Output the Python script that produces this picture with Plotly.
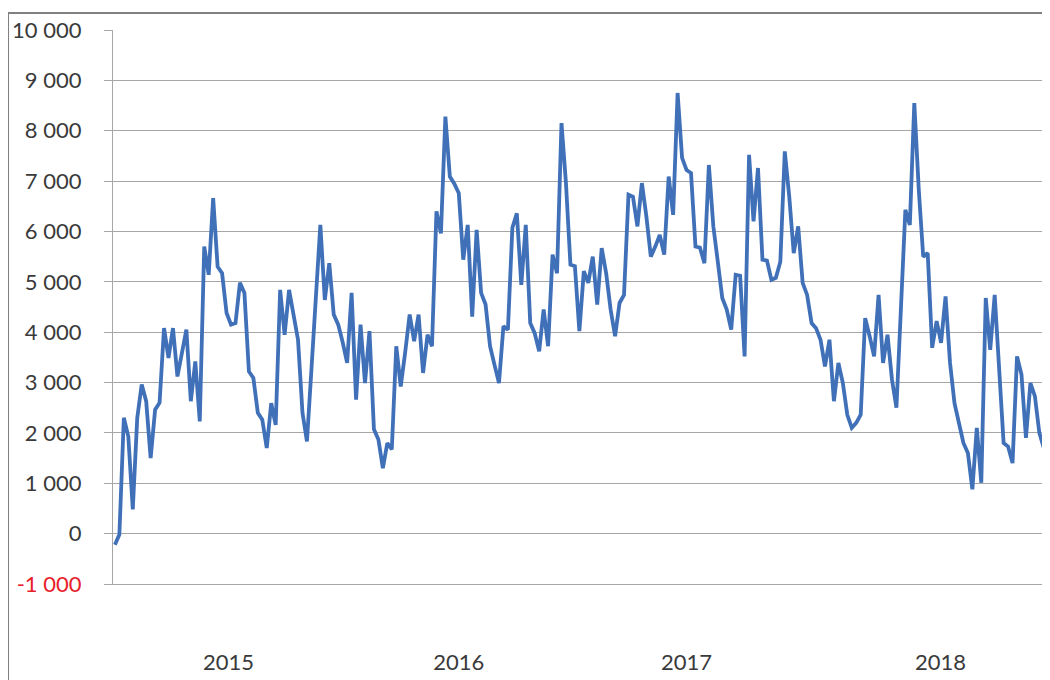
import pandas as pd
import plotly.graph_objects as go

# Weekly values
values = [
    -220, -20, 2300, 1930, 480, 2300, 2960, 2630, 1500, 2460,
    2600, 4080, 3490, 4080, 3120, 3600, 4050, 2630, 3420, 2230,
    5700, 5140, 6660, 5300, 5170, 4380, 4150, 4180, 4980, 4780,
    3220, 3090, 2400, 2260, 1700, 2590, 2160, 4840, 3950, 4840,
    4350, 3850, 2400, 1830, 3250, 4700, 6130, 4640, 5370, 4350,
    4150, 3800, 3390, 4780, 2660, 4150, 2990, 4020, 2070, 1870,
    1300, 1800, 1670, 3720, 2920, 3600, 4350, 3820, 4350, 3190,
    3950, 3720, 6400, 5960, 8280, 7090, 6950, 6760, 5440, 6130,
    4310, 6030, 4780, 4550, 3720, 3350, 2990, 4120, 4050, 6070,
    6360, 4940, 6130, 4180, 3980, 3620, 4450, 3720, 5540, 5170,
    8150, 6960, 5340, 5310, 4020, 5210, 4980, 5500, 4550, 5670,
    5170, 4450, 3920, 4580, 4740, 6730, 6690, 6100, 6960, 6300,
    5500, 5700, 5930, 5540, 7090, 6330, 8750, 7460, 7220, 7160,
    5700, 5680, 5370, 7320, 6100, 5400, 4680, 4450, 4050, 5140,
    5120, 3520, 7520, 6200, 7260, 5440, 5420, 5040, 5080, 5400,
    7590, 6690, 5570, 6100, 4980, 4740, 4180, 4080, 3850, 3320,
    3850, 2630, 3390, 2990, 2360, 2100, 2200, 2360, 4280, 3920,
    3520, 4740, 3390, 3950, 3060, 2500, 4450, 6430, 6130, 8550,
    6830, 5500, 5570, 3690, 4220, 3790, 4710, 3390, 2590, 2200,
    1800, 1600, 880, 2100, 1010, 4680, 3650, 4740, 3270, 1800,
    1730, 1400, 3520, 3160, 1900, 2990, 2730, 2000, 1700,
]
dates = pd.date_range("2015-01-04", periods=len(values), freq="7D")

year_labels = ["2015", "2016", "2017", "2018"]
year_tick_dates = ["2015-07-01", "2016-06-26", "2017-06-18", "2018-07-21"]

y_ticks = list(range(-1000, 10001, 1000))


def fmt(v):
    s = f"{abs(v):,}".replace(",", " ")
    s = ("-" if v < 0 else "") + s
    if v < 0:
        return f"<span style='color:#E8202A'>{s}</span>"
    return s


y_ticktext = [fmt(v) for v in y_ticks]

GRID = "#A6A6A6"
FONT = "Lato"

fig = go.Figure()
fig.add_trace(go.Scatter(
    x=dates, y=values, mode="lines",
    line=dict(color="#4070B8", width=3.8),
    showlegend=False, hoverinfo="skip",
))

fig.update_layout(
    width=1042, height=672, autosize=False,
    margin=dict(l=105, r=3, t=22, b=96, pad=0),
    paper_bgcolor="white", plot_bgcolor="white",
    font=dict(family=FONT, size=22, color="#3A3A3A"),
    xaxis=dict(
        range=["2015-01-01", "2019-01-04"],
        tickvals=year_tick_dates, ticktext=year_labels,
        showgrid=False, zeroline=False,
        showline=True, linecolor=GRID, linewidth=1.2,
        ticks="", ticklabelstandoff=58,
        tickfont=dict(family=FONT, size=22, color="#3A3A3A"),
    ),
    yaxis=dict(
        range=[-1000, 10000],
        tickvals=y_ticks, ticktext=y_ticktext,
        showgrid=True, gridcolor=GRID, gridwidth=1.2,
        zeroline=False,
        showline=True, linecolor=GRID, linewidth=1.2,
        ticks="outside", ticklen=8, tickcolor=GRID, tickwidth=1.2,
        ticklabelstandoff=18,
        tickfont=dict(family=FONT, size=22, color="#3A3A3A"),
    ),
    shapes=[dict(
        type="rect", xref="paper", yref="paper",
        x0=-0.1124, x1=1.2, y0=-0.4, y1=1.0307,
        line=dict(color="#808080", width=2), fillcolor="rgba(0,0,0,0)",
        layer="above",
    )],
)

fig.write_html("out.html")
